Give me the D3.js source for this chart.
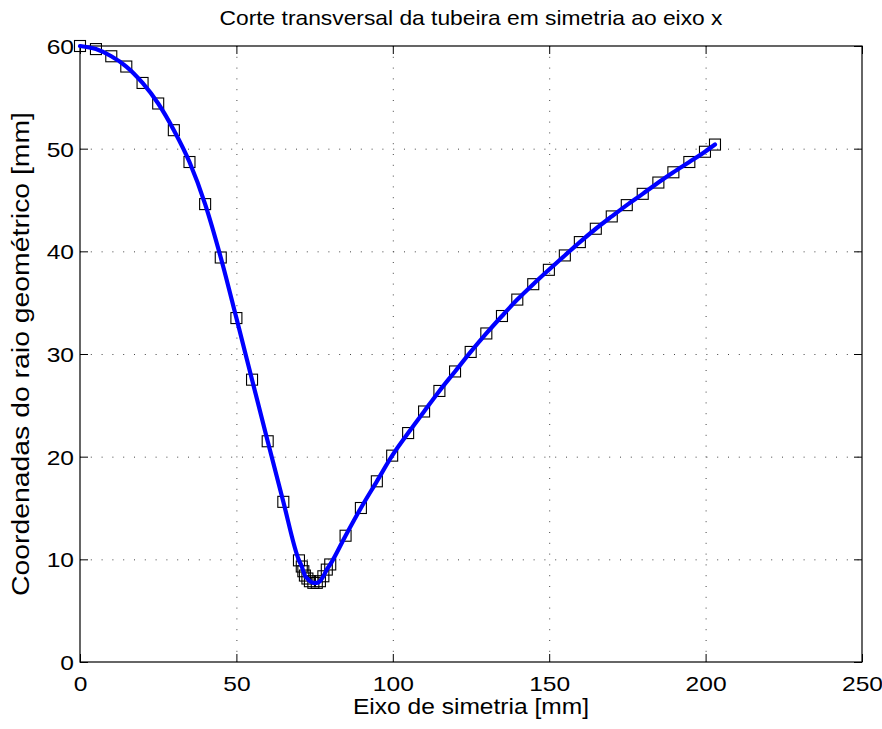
<!DOCTYPE html>
<html>
<head>
<meta charset="utf-8">
<script src="https://cdn.jsdelivr.net/npm/d3@7/dist/d3.min.js"></script>
<style>
  html, body { margin: 0; padding: 0; background: #fff; }
  svg { display: block; }
  text { font-family: "Liberation Sans", Arial, Helvetica, sans-serif; fill: #000; }
</style>
</head>
<body>
<svg id="chart" width="882" height="729"></svg>
<script>
// Data
const xValues = [0, 5.1, 10, 14.8, 20, 25, 30, 35, 40, 45, 50, 55, 60, 65, 70.0, 70.9, 71.4, 71.9, 72.7, 73.5, 74.6, 75.7, 76.7, 77.8, 78.9, 80.0, 84.9, 89.8, 94.9, 99.8, 104.9, 110.0, 114.9, 119.9, 124.9, 129.9, 134.9, 139.8, 144.9, 149.9, 155.0, 159.8, 164.9, 170.0, 174.8, 179.9, 184.9, 189.7, 194.8, 199.8, 203.0];
const yValues = [60, 59.7, 59.0, 58.0, 56.4, 54.4, 51.8, 48.7, 44.6, 39.4, 33.5, 27.5, 21.5, 15.6, 9.9, 9.3, 8.84, 8.42, 8.13, 7.87, 7.71, 7.71, 7.87, 8.35, 9.0, 9.5, 12.3, 15.0, 17.6, 20.1, 22.3, 24.4, 26.4, 28.3, 30.2, 32.0, 33.7, 35.3, 36.8, 38.2, 39.6, 40.9, 42.2, 43.4, 44.5, 45.6, 46.7, 47.7, 48.7, 49.7, 50.4];
const xTicks = [0, 50, 100, 150, 200, 250];
const yTicks = [0, 10, 20, 30, 40, 50, 60];
const titleText = "Corte transversal da tubeira em simetria ao eixo x";
const xLabelText = "Eixo de simetria [mm]";
const yLabelText = "Coordenadas do raio geométrico [mm]";

const points = xValues.map((x, i) => ({ x, y: yValues[i] }));

const svg = d3.select("#chart");
const pLeft = 80, pRight = 862, pTop = 46, pBottom = 662;

const x = d3.scaleLinear().domain([0, 250]).range([pLeft, pRight]);
const y = d3.scaleLinear().domain([0, 60]).range([pBottom, pTop]);

const fontFam = '"Liberation Sans", Arial, Helvetica, sans-serif';
const tickFont = 21;
const tickLen = 8;
const hStretch = 1.17;

// Grid (dotted)
const grid = svg.append("g").attr("class", "grid");
grid.selectAll("line.vx").data(xTicks.filter(t => t > 0 && t < 250)).join("line")
  .attr("x1", d => x(d) + 0.5).attr("x2", d => x(d) + 0.5)
  .attr("y1", pTop).attr("y2", pBottom)
  .attr("stroke", "#444").attr("stroke-width", 1).attr("stroke-dasharray", "1,9.8");
grid.selectAll("line.hy").data(yTicks.filter(t => t > 0 && t < 60)).join("line")
  .attr("y1", d => y(d) + 0.5).attr("y2", d => y(d) + 0.5)
  .attr("x1", pLeft).attr("x2", pRight)
  .attr("stroke", "#444").attr("stroke-width", 1).attr("stroke-dasharray", "1,9.8");

// Axes with inward ticks
const xAxisB = d3.axisBottom(x).tickValues(xTicks).tickSizeInner(-tickLen).tickSizeOuter(0).tickPadding(14);
const xAxisT = d3.axisTop(x).tickValues(xTicks).tickSizeInner(-tickLen).tickSizeOuter(0).tickFormat("");
const yAxisL = d3.axisLeft(y).tickValues(yTicks).tickSizeInner(-tickLen).tickSizeOuter(0).tickPadding(6);
const yAxisR = d3.axisRight(y).tickValues(yTicks).tickSizeInner(-tickLen).tickSizeOuter(0).tickFormat("");

function stretchText(sel, factor) {
  sel.each(function() {
    const w = this.getComputedTextLength();
    if (w > 0) d3.select(this).attr("textLength", w * factor).attr("lengthAdjust", "spacingAndGlyphs");
  });
}
function styleAxis(g) {
  g.select(".domain").remove();
  g.selectAll("line").attr("stroke", "#000").attr("stroke-width", 1);
  g.selectAll("text").attr("font-size", tickFont).attr("font-family", fontFam).attr("fill", "#000")
    .call(stretchText, hStretch);
}
svg.append("g").attr("transform", `translate(0,${pBottom})`).call(xAxisB).call(styleAxis);
svg.append("g").attr("transform", `translate(0,${pTop})`).call(xAxisT).call(styleAxis);
svg.append("g").attr("transform", `translate(${pLeft},0)`).call(yAxisL).call(styleAxis)
  .selectAll("text").attr("dy", "0.36em");
svg.append("g").attr("transform", `translate(${pRight},0)`).call(yAxisR).call(styleAxis);

// Box
svg.append("rect").attr("x", pLeft).attr("y", pTop)
  .attr("width", pRight - pLeft).attr("height", pBottom - pTop)
  .attr("fill", "none").attr("stroke", "#000").attr("stroke-width", 1.2);

// Markers
const ms = 11;
svg.append("g").selectAll("rect").data(points).join("rect")
  .attr("x", d => x(d.x) - ms / 2).attr("y", d => y(d.y) - ms / 2)
  .attr("width", ms).attr("height", ms)
  .attr("fill", "none").attr("stroke", "#000").attr("stroke-width", 1.1);

// Line
const line = d3.line().x(d => x(d.x)).y(d => y(d.y)).curve(d3.curveMonotoneX);
svg.append("path").datum(points)
  .attr("d", line).attr("fill", "none")
  .attr("stroke", "#0000ff").attr("stroke-width", 4.2)
  .attr("stroke-linejoin", "round").attr("stroke-linecap", "round");

// Title and labels
svg.append("text").attr("x", (pLeft + pRight) / 2).attr("y", 25)
  .attr("text-anchor", "middle").attr("font-size", 21)
  .attr("textLength", 503).attr("lengthAdjust", "spacingAndGlyphs").text(titleText);
svg.append("text").attr("x", (pLeft + pRight) / 2).attr("y", 714)
  .attr("text-anchor", "middle").attr("font-size", 22.5)
  .attr("textLength", 236).attr("lengthAdjust", "spacingAndGlyphs").text(xLabelText);
svg.append("text").attr("transform", `translate(29,${(pTop + pBottom) / 2}) rotate(-90)`)
  .attr("text-anchor", "middle").attr("font-size", 23)
  .attr("textLength", 484).attr("lengthAdjust", "spacingAndGlyphs").text(yLabelText);
</script>
</body>
</html>
